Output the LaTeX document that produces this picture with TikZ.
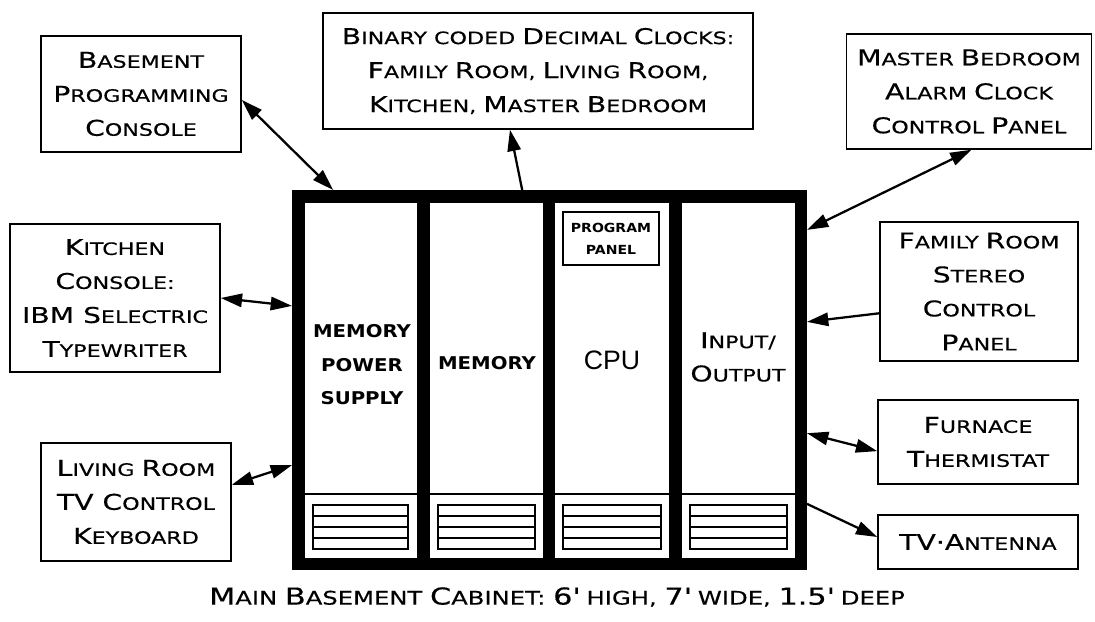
\documentclass[tikz,border=0pt]{standalone}
\usepackage{fontspec}
\usetikzlibrary{arrows.meta,calc}
\newfontfamily\cpfont[FakeStretch=1.3,FakeBold=0.4]{DejaVu Sans}
\newfontfamily\cpbold[FakeStretch=1.12]{DejaVu Sans}
\newfontfamily\cpufont{Liberation Sans}
\def\pxu{0.75pt}
\newcommand\Lc[1]{{\fontsize{16.3}{25.5}\selectfont #1}}
\newcommand\Lcap[1]{{\fontsize{17.5}{25.5}\selectfont #1}}
\begin{document}
\begin{tikzpicture}[x=0.75pt,y=-0.75pt,
  box/.style={draw, line width=1.1pt, inner sep=0pt, align=center,
    font=\cpfont\fontsize{12.8}{25.5}\selectfont},
  label/.style={inner sep=0pt, align=center, font=\cpfont\fontsize{12.8}{25}\selectfont},
  boldlabel/.style={inner sep=0pt, align=center, font=\cpbold\bfseries\fontsize{13.2}{25.1}\selectfont},
  conn/.style={line width=1.7pt},
  dbl/.style={conn, {Triangle[length=16pt,width=10pt]}-{Triangle[length=16pt,width=10pt]}},
  sgl/.style={conn, -{Triangle[length=16pt,width=10pt]}},
  thinline/.style={line width=1.1pt}]
\useasboundingbox (0,0) rectangle (1095,621);

% cabinet
\node[draw, line width=12.5*\pxu, outer sep=6.25*\pxu, inner sep=0pt,
  minimum width=502.5*\pxu, minimum height=367.5*\pxu] (cab) at (549.5,380) {};
\draw[thinline] (305,494) -- (795,494);
\fill (417,203) rectangle (430,558);
\fill (543,203) rectangle (555,558);
\fill (669,203) rectangle (682,558);
\foreach \xa/\xb in {313/408, 438/535, 563/661, 690/787}{
  \draw[thinline] (\xa,505) rectangle (\xb,549);
  \draw[thinline] (\xa,516) -- (\xb,516) (\xa,527) -- (\xb,527) (\xa,538) -- (\xb,538);
}
\node[draw, line width=1.1pt, inner sep=0pt, minimum width=96*\pxu, minimum height=53*\pxu,
  align=center, font=\cpbold\bfseries\fontsize{9.4}{16.5}\selectfont] (pp) at (611,238.5) {PROGRAM\\PANEL};

\node[boldlabel] (mps) at (362,365) {MEMORY\\POWER\\SUPPLY};
\node[boldlabel] (mem) at (487,363) {MEMORY};
\node[inner sep=0pt, font=\cpufont\fontsize{20}{24}\selectfont] (cpu) at (612,360) {CPU};
\node[label] (io) at (738,357) {\Lc{I}NPUT/\\\Lc{O}UTPUT};

% boxes
\node[box, minimum width=200*\pxu, minimum height=116*\pxu] (bpc) at (141,94)
  {\Lc{B}ASEMENT\\\Lc{P}ROGRAMMING\\\Lc{C}ONSOLE};
\node[box, minimum width=430*\pxu, minimum height=116*\pxu] (bcd) at (538,71)
  {\Lc{B}INARY CODED \Lc{D}ECIMAL \Lc{C}LOCKS:\\\Lc{F}AMILY \Lc{R}OOM, \Lc{L}IVING \Lc{R}OOM,\\\Lc{K}ITCHEN, \Lc{M}ASTER \Lc{B}EDROOM};
\node[box, minimum width=245*\pxu, minimum height=115*\pxu] (mbr) at (969,91.5)
  {\Lc{M}ASTER \Lc{B}EDROOM\\\Lc{A}LARM \Lc{C}LOCK\\\Lc{C}ONTROL \Lc{P}ANEL};
\node[box, minimum width=210*\pxu, minimum height=148*\pxu] (kit) at (115,298)
  {\Lc{K}ITCHEN\\\Lc{C}ONSOLE:\\\Lc{IBM S}ELECTRIC\\\Lc{T}YPEWRITER};
\node[box, minimum width=190*\pxu, minimum height=118*\pxu] (lrk) at (136,502)
  {\Lc{L}IVING \Lc{R}OOM\\\Lc{TV C}ONTROL\\\Lc{K}EYBOARD};
\node[box, minimum width=198*\pxu, minimum height=139*\pxu] (frs) at (979,291.5)
  {\Lc{F}AMILY \Lc{R}OOM\\\Lc{S}TEREO\\\Lc{C}ONTROL\\\Lc{P}ANEL};
\node[box, minimum width=200*\pxu, minimum height=84*\pxu] (fur) at (978,442)
  {\Lc{F}URNACE\\\Lc{T}HERMISTAT};
\node[box, minimum width=200*\pxu, minimum height=54*\pxu] (tva) at (978,542)
  {\Lc{TV·A}NTENNA};

\node[inner sep=0pt, font=\cpfont\fontsize{14}{25}\selectfont] (cap) at (557,597)
  {\Lcap{M}AIN \Lcap{B}ASEMENT \Lcap{C}ABINET: \Lcap{6\textquotesingle} HIGH, \Lcap{7\textquotesingle} WIDE, \Lcap{1.5\textquotesingle} DEEP};

% connectors
\draw[dbl] ($(bpc.north east)!0.55!(bpc.south east)$) -- ($(cab.north west)!0.08!(cab.north east)$);
\draw[sgl] ($(cab.north west)!0.447!(cab.north east)$) -- ($(bcd.south west)!0.435!(bcd.south east)$);
\draw[dbl] ($(mbr.south west)!0.51!(mbr.south east)$) -- ($(cab.north east)!0.105!(cab.south east)$);
\draw[sgl] ($(frs.north west)!0.655!(frs.south west)$) -- ($(cab.north east)!0.347!(cab.south east)$);
\draw[dbl] ($(fur.north west)!0.607!(fur.south west)$) -- ($(cab.north east)!0.64!(cab.south east)$);
\draw[sgl] ($(cab.north east)!0.826!(cab.south east)$) -- ($(tva.north west)!0.41!(tva.south west)$);
\draw[dbl] (kit.east) -- ($(cab.north west)!0.305!(cab.south west)$);
\draw[dbl] ($(lrk.north east)!0.356!(lrk.south east)$) -- ($(cab.north west)!0.724!(cab.south west)$);
\end{tikzpicture}
\end{document}
